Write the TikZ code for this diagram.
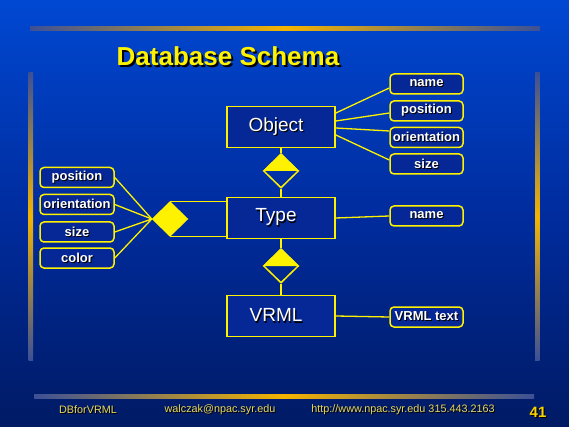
\documentclass[tikz,border=0pt]{standalone}
\usepackage{fontspec}
\setmainfont{Liberation Sans}
\usetikzlibrary{shapes.geometric}

\definecolor{bgtop}{RGB}{0,72,210}
\definecolor{bgmid}{RGB}{0,44,158}
\definecolor{bgbot}{RGB}{0,26,100}
\definecolor{boxblue}{RGB}{6,40,150}
\definecolor{gold}{RGB}{245,180,0}
\definecolor{barend}{RGB}{60,80,150}
\definecolor{foot}{RGB}{235,215,90}

% text with a black drop shadow: offset, colour, text
\newcommand{\shadowed}[3]{\makebox[0pt][l]{\hspace*{#1}\raisebox{-#1}{\color{black}#3}}{\color{#2}#3}}

\begin{document}
\begin{tikzpicture}[x=1pt, y=-1pt,
    ent/.style={draw=yellow, line width=1.7pt, fill=boxblue, minimum width=108pt, minimum height=41pt, inner sep=0pt, font=\fontsize{19}{22}\selectfont},
    attr/.style={draw=yellow, line width=1.5pt, fill=boxblue, rounded corners=4pt, minimum width=73pt, minimum height=20pt, inner sep=0pt, font=\fontsize{13}{15}\selectfont\bfseries},
    rel/.style={draw=yellow, line width=1.5pt, diamond, minimum width=35pt, minimum height=34pt, inner sep=0pt},
    link/.style={draw=yellow, line width=1.3pt},
    foottext/.style={font=\fontsize{10.8}{12}\selectfont},
]
% Background and gold bars
\useasboundingbox (0,0) rectangle (569,427);
\shade[top color=bgtop, bottom color=bgbot, middle color=bgmid] (0,0) rectangle (569,427);
\shade[left color=barend, right color=barend, middle color=gold] (30,26.5) rectangle (540,30.5);
\shade[left color=barend, right color=barend, middle color=gold] (34,394) rectangle (534,398);
\shade[top color=barend, bottom color=barend, middle color=gold] (28.5,73) rectangle (33,360);
\shade[top color=barend, bottom color=barend, middle color=gold] (535,73) rectangle (539.5,360);

% Title
\node[font=\fontsize{26}{30}\selectfont\bfseries] (title) at (228,57) {\shadowed{2pt}{yellow}{Database Schema}};

% Entities
\node[ent] (obj) at (281,127) {\hspace*{-10pt}\shadowed{1.2pt}{white}{Object}};
\node[ent] (typ) at (281,218) {\hspace*{-10pt}\shadowed{1.2pt}{white}{Type}};
\node[ent] (vrml) at (281,316) {\hspace*{-10pt}\shadowed{1.2pt}{white}{VRML}};

% Relationships
\node[rel] (objtyp) at (281,171) {};
\fill[yellow] (objtyp.west) -- (objtyp.north) -- (objtyp.east) -- cycle;
\node[rel] (typvrml) at (281,266) {};
\fill[yellow] (typvrml.west) -- (typvrml.north) -- (typvrml.east) -- cycle;
\node[rel, fill=yellow] (inst) at (170,219) {};

% Attributes of Object
\node[attr] (oname) at (426.5,84) {\shadowed{1pt}{white}{name}};
\node[attr] (opos) at (426.5,111) {\shadowed{1pt}{white}{position}};
\node[attr] (oori) at (426.5,137.5) {\shadowed{1pt}{white}{orientation}};
\node[attr] (osize) at (426.5,164) {\shadowed{1pt}{white}{size}};

% Attributes of Type and VRML
\node[attr] (tname) at (426.5,216) {\shadowed{1pt}{white}{name}};
\node[attr] (vtext) at (426.5,317) {\shadowed{1pt}{white}{VRML text}};

% Attributes of the instance relationship
\node[attr, minimum width=74pt] (ipos) at (77,177.5) {\shadowed{1pt}{white}{position}};
\node[attr, minimum width=74pt] (iori) at (77,204.5) {\shadowed{1pt}{white}{orientation}};
\node[attr, minimum width=74pt] (isize) at (77,232) {\shadowed{1pt}{white}{size}};
\node[attr, minimum width=74pt] (icol) at (77,258) {\shadowed{1pt}{white}{color}};

% Connectors
\draw[link] ([yshift=14pt]obj.east) -- ([yshift=-4pt]oname.west);
\draw[link] ([yshift=6pt]obj.east) -- ([yshift=-2pt]opos.west);
\draw[link] ([yshift=-1pt]obj.east) -- ([yshift=6.5pt]oori.west);
\draw[link] ([yshift=-8pt]obj.east) -- ([yshift=4pt]osize.west);
\draw[link] (obj.south) -- (objtyp.north);
\draw[link] (objtyp.south) -- (typ.north);
\draw[link] (typ.south) -- (typvrml.north);
\draw[link] (typvrml.south) -- (vrml.north);
\draw[link] (typ.east) -- (tname.west);
\draw[link] (vrml.east) -- (vtext.west);
\draw[link] (inst.north) -- (inst.north -| typ.west);
\draw[link] (inst.south) -- (inst.south -| typ.west);
\foreach \a in {ipos,iori,isize,icol}
  \draw[link] (\a.east) -- (inst.west);

% Footer
\node[foottext] (fname) at (88,410) {\shadowed{1pt}{foot}{DBforVRML}};
\node[foottext] (fmail) at (220,410) {\shadowed{1pt}{foot}{walczak@npac.syr.edu}};
\node[foottext] (fweb) at (403,410) {\shadowed{1pt}{foot}{http://www.npac.syr.edu 315.443.2163}};
\node[font=\fontsize{15}{17}\selectfont\bfseries] (fpage) at (538,413) {\shadowed{1.2pt}{gold!60!yellow}{41}};
\end{tikzpicture}
\end{document}
